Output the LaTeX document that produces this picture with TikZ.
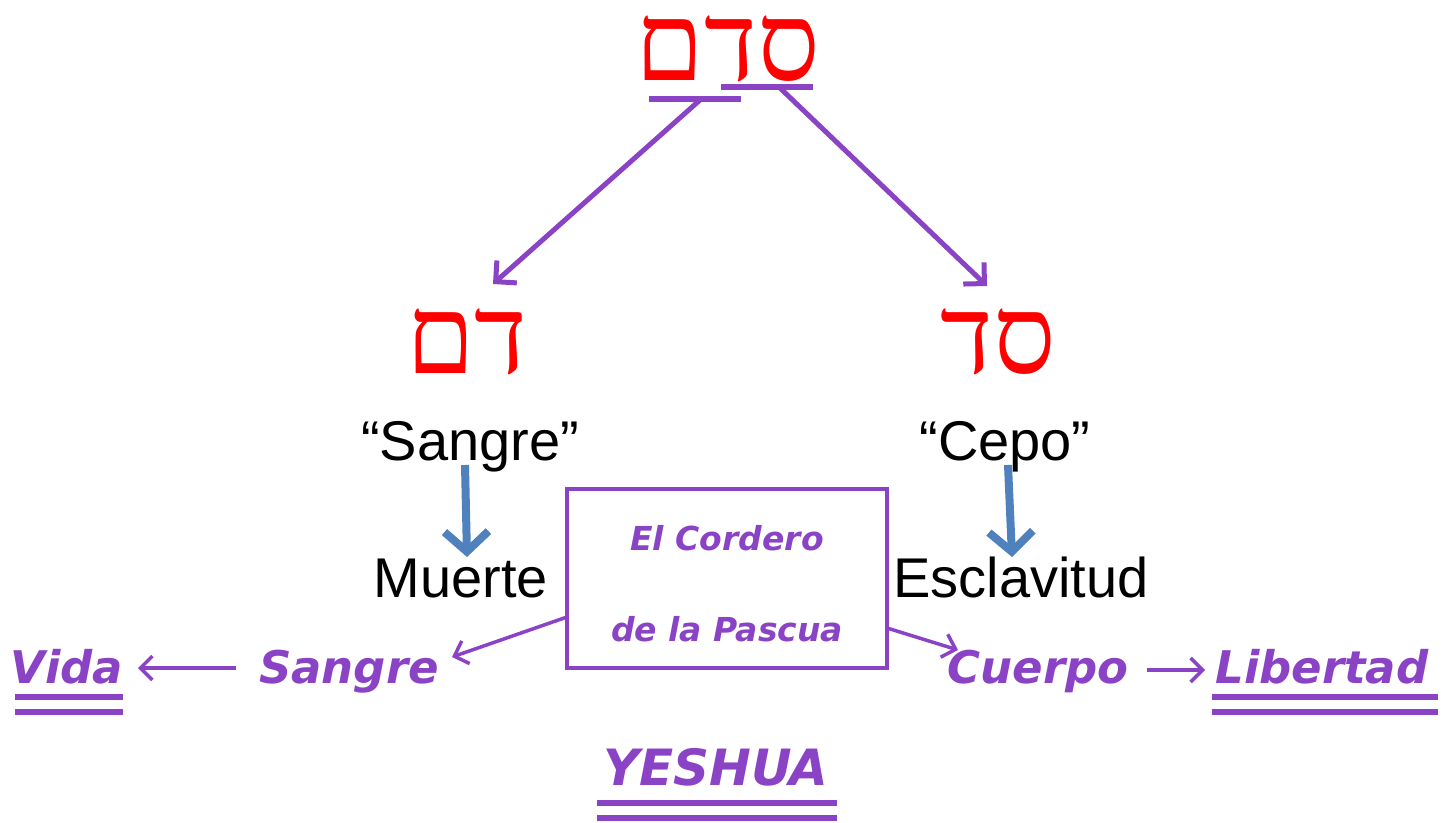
\documentclass[tikz,border=0pt]{standalone}
\usepackage{fontspec}
\setmainfont{Liberation Sans}
\newfontfamily\hebfont[Script=Hebrew]{Liberation Serif}
\newfontfamily\handfont{DejaVu Sans}
\TeXXeTstate=1
\usetikzlibrary{arrows.meta}
\definecolor{pur}{RGB}{139,67,198}
\definecolor{blu}{RGB}{79,129,189}
\definecolor{hred}{RGB}{255,0,0}
\begin{document}
\begin{tikzpicture}[x=1pt,y=-1pt,
  heb/.style={inner sep=0pt,anchor=base,text=hred,text height=70pt,text depth=0pt,font=\hebfont\fontsize{110}{110}\selectfont},
  blk/.style={inner sep=0pt,anchor=base,text=black,font=\fontsize{56}{56}\selectfont},
  hand/.style={inner sep=0pt,anchor=base,text=pur,font=\handfont\bfseries\itshape\fontsize{45}{45}\selectfont},
  boxtxt/.style={inner sep=0pt,anchor=base,text=pur,font=\handfont\bfseries\itshape\fontsize{33}{33}\selectfont},
  parrow/.style={draw=pur,line width=5pt,-{Straight Barb[length=15pt,width=30pt,line width=5pt]}},
  sarrow/.style={draw=pur,line width=3.5pt,-{Straight Barb[length=12pt,width=24pt,line width=3.5pt]}},
  barrow/.style={draw=blu,line width=8pt,-{Straight Barb[length=20pt,width=44pt,line width=8pt]}},
  uline/.style={draw=pur,line width=5.5pt},
  framebox/.style={draw=pur,line width=3.5pt}
]
\useasboundingbox (0,0) rectangle (1455,822);

% Hebrew words
\node[heb] (sdm) at (728,80) {\beginR סדם\endR};
\node[heb] (dam) at (467,373) {\beginR דם\endR};
\node[heb] (sad) at (998,373) {\beginR סד\endR};

% underlines of top word
\coordinate (u1a) at (649,99);  \coordinate (u1b) at (741,99);
\coordinate (u2a) at (721,87);  \coordinate (u2b) at (813,87);
\draw[uline] (u1a) -- (u1b);
\draw[uline] (u2a) -- (u2b);

% arrows from top word
\coordinate (a1s) at (700,100); \coordinate (a1e) at (493,284);
\coordinate (a2s) at (780,88);  \coordinate (a2e) at (987,286);
\draw[parrow] (a1s) -- (a1e);
\draw[parrow] (a2s) -- (a2e);

% meanings
\node[blk] (sangreq) at (470,460) {“Sangre”};
\node[blk] (cepoq) at (1005,460) {“Cepo”};
\node[blk] (muerte) at (461,597) {Muerte};
\node[blk] (escl) at (1021,597) {Esclavitud};

\coordinate (b1s) at (465,465); \coordinate (b1e) at (467,557);
\coordinate (b2s) at (1008,465); \coordinate (b2e) at (1012,557);
\draw[barrow] (b1s) -- (b1e);
\draw[barrow] (b2s) -- (b2e);

% box
\node[framebox,minimum width=320pt,minimum height=179pt,inner sep=0pt] (box) at (727,578.5) {};
\node[boxtxt] (t1) at (727,550) {El Cordero};
\node[boxtxt] (t2) at (727,641) {de la Pascua};

% bottom row
\node[hand] (vida) at (67,683) {Vida};
\node[hand] (psang) at (349,683) {Sangre};
\node[hand] (cuerpo) at (1038,683) {Cuerpo};
\node[hand] (libert) at (1322,683) {Libertad};
\node[hand,font=\handfont\bfseries\itshape\fontsize{50}{50}\selectfont] (yeshua) at (716,785) {YESHUA};

\draw[uline] (15,697) -- (123,697);
\draw[uline] (15,712) -- (123,712);
\draw[uline] (1212,697) -- (1438,697);
\draw[uline] (1212,712) -- (1438,712);
\draw[uline] (597,803) -- (837,803);
\draw[uline] (597,818) -- (837,818);

\coordinate (bl) at (567,617); \coordinate (sl) at (452,657);
\coordinate (br) at (887,628); \coordinate (cr) at (958,650);
\coordinate (vl) at (138,668); \coordinate (sr) at (236,668);
\coordinate (cq) at (1147,670); \coordinate (lq) at (1205,670);
\draw[sarrow] (bl) -- (sl);
\draw[sarrow] (br) -- (cr);
\draw[sarrow] (sr) -- (vl);
\draw[sarrow] (cq) -- (lq);
\end{tikzpicture}
\end{document}
